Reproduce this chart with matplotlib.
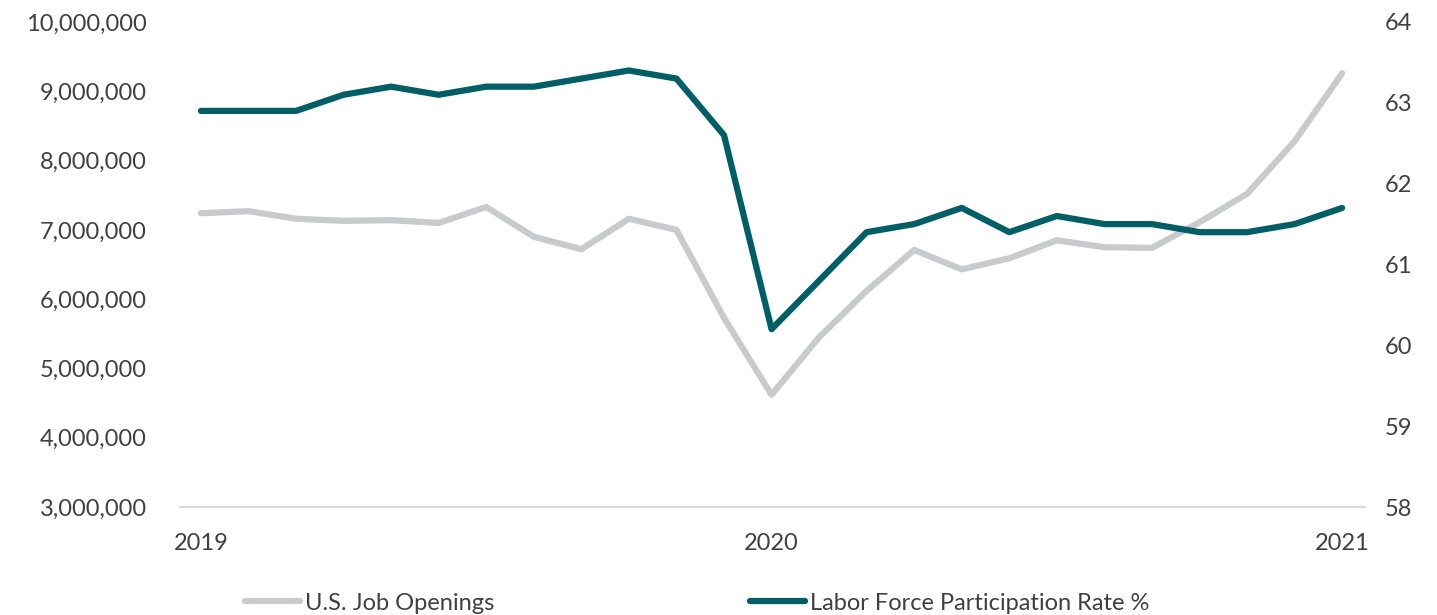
import matplotlib.pyplot as plt
from matplotlib.ticker import FuncFormatter

# monthly, Jan 2019 .. Jan 2021
months = list(range(25))
job_openings = [7240000, 7270000, 7160000, 7130000, 7140000, 7100000, 7330000,
                6900000, 6720000, 7160000, 7000000, 5730000, 4620000, 5450000,
                6120000, 6710000, 6430000, 6590000, 6850000, 6750000, 6740000,
                7110000, 7520000, 8280000, 9260000]
participation = [62.9, 62.9, 62.9, 63.1, 63.2, 63.1, 63.2, 63.2, 63.3, 63.4,
                 63.3, 62.6, 60.2, 60.8, 61.4, 61.5, 61.7, 61.4, 61.6, 61.5,
                 61.5, 61.4, 61.4, 61.5, 61.7]
year_ticks = [0, 12, 24]
year_labels = ['2019', '2020', '2021']

plt.rcParams['font.family'] = ['Lato', 'DejaVu Sans']
txt = '#404040'
gray = '#C9CACB'
teal = '#005F66'
fs = 17

fig = plt.figure(figsize=(14.37, 6.15), dpi=100)
ax1 = fig.add_axes([180/1437, 108/615, 1185/1437, 485/615])
ax2 = ax1.twinx()

l1, = ax1.plot(months, job_openings, color=gray, lw=4.5,
               solid_capstyle='round', solid_joinstyle='round',
               label='U.S. Job Openings')
l2, = ax2.plot(months, participation, color=teal, lw=4.5,
               solid_capstyle='round', solid_joinstyle='round',
               label='Labor Force Participation Rate %')

ax1.set_xlim(-0.44, 24.48)
ax1.set_ylim(3000000, 10000000)
ax2.set_ylim(58, 64)
ax1.set_yticks(range(3000000, 10000001, 1000000))
ax1.yaxis.set_major_formatter(FuncFormatter(lambda v, p: f'{int(v):,}'))
ax2.set_yticks(range(58, 65))
ax1.set_xticks(year_ticks)
ax1.set_xticklabels(year_labels)

for ax in (ax1, ax2):
    for s in ax.spines.values():
        s.set_visible(False)
    ax.tick_params(length=0, labelsize=fs, colors=txt)
ax1.spines['bottom'].set_visible(True)
ax1.spines['bottom'].set_color('#D9D9D9')
ax1.spines['bottom'].set_linewidth(1.5)
ax1.tick_params(axis='y', pad=24)
ax2.tick_params(axis='y', pad=14)
ax1.tick_params(axis='x', pad=19)

# two legend entries placed separately, as in the original
for h, x0 in [(l1, 245), (l2, 750)]:
    fig.legend(handles=[h], loc='center left', bbox_to_anchor=(x0/1437, 12/615),
               frameon=False, fontsize=fs, labelcolor=txt, borderpad=0,
               borderaxespad=0, handlelength=2.35, handletextpad=0.2)

fig.savefig('out.png', dpi=100)
